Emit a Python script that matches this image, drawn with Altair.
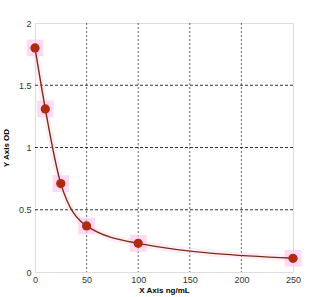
import altair as alt
import pandas as pd

conc = [0, 10, 25, 50, 100, 250]
od = [1.80, 1.31, 0.71, 0.37, 0.23, 0.11]
x_grid = [50, 100, 150, 200]
y_grid = [0.5, 1.0, 1.5]

df = pd.DataFrame({"conc": conc, "od": od})
gx = pd.DataFrame({"conc": x_grid})
gy = pd.DataFrame({"od": y_grid})

xs = alt.Scale(domain=[0, 250], nice=False)
ys = alt.Scale(domain=[0, 2], nice=False)

x = alt.X("conc:Q", scale=xs,
          axis=alt.Axis(values=[0, 50, 100, 150, 200, 250], title="X Axis ng/mL",
                        grid=False, tickSize=0, labelPadding=3, labelFontSize=9,
                        labelColor="#333", labelFont="Liberation Sans",
                        titleFont="Liberation Sans", titleFontSize=8,
                        titleFontWeight="bold", titlePadding=2,
                        domain=False, labelFlush=False))
y = alt.Y("od:Q", scale=ys,
          axis=alt.Axis(values=[0, 0.5, 1, 1.5, 2], format=".1~f", title="Y Axis OD",
                        grid=False, tickSize=0, labelPadding=4, labelFontSize=9,
                        labelColor="#333", labelFont="Liberation Sans",
                        titleFont="Liberation Sans", titleFontSize=8,
                        titleFontWeight="bold", titlePadding=8,
                        domain=False, labelFlush=False))

vgrid = alt.Chart(gx).mark_rule(color="#333", strokeDash=[2, 2], strokeWidth=1,
                                opacity=0.75).encode(x=x)
hgrid = alt.Chart(gy).mark_rule(color="#111", strokeDash=[3, 2], strokeWidth=1,
                                opacity=0.85).encode(y=y)

base = alt.Chart(df)

halo_line = base.mark_line(interpolate="monotone", color="#ffc6ef", strokeWidth=7,
                           opacity=0.3).encode(x=x, y=y)
halo_pts = base.mark_square(color="#ffc2ee", size=280, opacity=0.6).encode(x=x, y=y)
line = base.mark_line(interpolate="monotone", color="#7a2e10", strokeWidth=1.4).encode(x=x, y=y)
pts = base.mark_circle(color="#b02a0e", size=85, opacity=1).encode(x=x, y=y)

chart = alt.layer(vgrid, hgrid, halo_line, halo_pts, line, pts).properties(
    width=258, height=249,
    autosize=alt.AutoSizeParams(type="none"),
    padding={"left": 35, "top": 23, "right": 42, "bottom": 25},
).configure_view(stroke="#666", strokeWidth=1.2).configure(background="white")

chart.save("out.html", embed_options={"renderer": "svg", "actions": False})
